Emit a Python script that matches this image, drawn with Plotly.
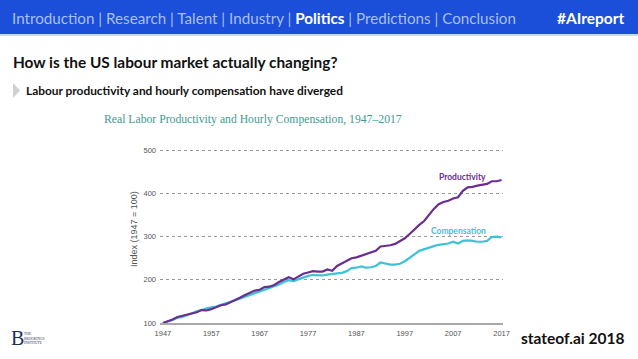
import plotly.graph_objects as go

years = list(range(1947, 2018))
productivity = [100, 104, 108, 114, 117, 120, 123, 125, 130, 129,
                132, 136, 141, 143, 148, 154, 159, 165, 170, 175,
                177, 183, 184, 188, 195, 201, 206, 201, 208, 214,
                217, 220, 219, 219, 224, 221, 232, 238, 244, 250,
                252, 256, 259, 263, 267, 277, 278, 280, 283, 290,
                296, 306, 317, 327, 336, 350, 364, 375, 380, 383,
                388, 391, 406, 414, 415, 418, 420, 422, 428, 428, 431]
compensation = [100, 103, 107, 112, 114, 118, 123, 127, 130, 134,
                136, 138, 142, 145, 149, 153, 157, 162, 166, 170,
                173, 178, 182, 185, 189, 195, 199, 197, 201, 206,
                209, 211, 211, 210, 212, 214, 215, 216, 220, 227,
                228, 231, 228, 229, 232, 240, 237, 235, 235, 237,
                243, 252, 259, 267, 271, 274, 278, 281, 282, 284,
                288, 284, 290, 291, 290, 288, 288, 290, 299, 300, 298]
x_ticks = [1947, 1957, 1967, 1977, 1987, 1997, 2007, 2017]
y_ticks = [100, 200, 300, 400, 500]

W, H = 638, 359
L, R, T, B = 160, 135, 148, 36
PW, PH = W - L - R, H - T - B


def px(x):
    return (x - L) / PW


def py(y):
    return (H - B - y) / PH


PURPLE = "#6b2d8f"
CYAN = "#3cc3d6"

fig = go.Figure()
fig.add_trace(go.Scatter(x=years, y=compensation, mode="lines",
                         line=dict(color=CYAN, width=2.2), name="Compensation",
                         hoverinfo="skip"))
fig.add_trace(go.Scatter(x=years, y=productivity, mode="lines",
                         line=dict(color=PURPLE, width=2.2), name="Productivity",
                         hoverinfo="skip"))

shapes = [
    # banner
    dict(type="rect", xref="paper", yref="paper", x0=px(0), x1=px(W),
         y0=py(34), y1=py(0), fillcolor="#1c4fd9", line=dict(width=0), layer="below"),
    dict(type="rect", xref="paper", yref="paper", x0=px(0), x1=px(W),
         y0=py(36), y1=py(34), fillcolor="#c9d8f7", line=dict(width=0), layer="below"),
    # bullet triangle
    dict(type="path", xref="paper", yref="paper",
         path=f"M {px(13)} {py(83)} L {px(20)} {py(90.5)} L {px(13)} {py(98)} Z",
         fillcolor="#d0d0d0", line=dict(width=0)),
]

annotations = [
    dict(xref="paper", yref="paper", x=px(10), y=py(18), xanchor="left", yanchor="middle",
         showarrow=False,
         text=("<span style='color:#a9bff2'>Introduction | Research | Talent | Industry | </span>"
               "<b style='color:#ffffff'>Politics</b>"
               "<span style='color:#a9bff2'> | Predictions | Conclusion</span>"),
         font=dict(family="Lato", size=15.2, color="#a9bff2")),
    dict(xref="paper", yref="paper", x=px(627), y=py(18), xanchor="right", yanchor="middle",
         showarrow=False, text="<b>#AIreport</b>",
         font=dict(family="Lato", size=15.5, color="#ffffff")),
    dict(xref="paper", yref="paper", x=px(11), y=py(62), xanchor="left", yanchor="middle",
         showarrow=False, text="<b>How is the US labour market actually changing?</b>",
         font=dict(family="Lato", size=15.4, color="#111111")),
    dict(xref="paper", yref="paper", x=px(24), y=py(90.5), xanchor="left", yanchor="middle",
         showarrow=False, text="<b>Labour productivity and hourly compensation have diverged</b>",
         font=dict(family="Lato", size=11.9, color="#111111")),
    dict(xref="paper", yref="paper", x=px(102), y=py(119), xanchor="left", yanchor="middle",
         showarrow=False, text="Real Labor Productivity and Hourly Compensation, 1947\u20132017",
         font=dict(family="Liberation Serif", size=11.7, color="#3f9a93")),
    dict(xref="paper", yref="paper", x=px(134), y=py(229), xanchor="center", yanchor="middle",
         showarrow=False, text="Index (1947 = 100)", textangle=-90,
         font=dict(family="Liberation Sans Narrow, Liberation Sans", size=9, color="#555555")),
    dict(x=2009.0, y=437, xref="x", yref="y", showarrow=False, text="<b>Productivity</b>",
         font=dict(family="Lato", size=8.5, color=PURPLE)),
    dict(x=2008.2, y=312, xref="x", yref="y", showarrow=False, text="<b>Compensation</b>",
         font=dict(family="Lato", size=8.5, color=CYAN)),
    dict(xref="paper", yref="paper", x=px(626), y=py(338), xanchor="right", yanchor="middle",
         showarrow=False, text="<b>stateof.ai 2018</b>",
         font=dict(family="Lato", size=15.5, color="#111111")),
    dict(xref="paper", yref="paper", x=px(17), y=py(338), xanchor="center", yanchor="middle",
         showarrow=False, text="B",
         font=dict(family="Liberation Serif", size=20, color="#1f2f5c")),
    dict(xref="paper", yref="paper", x=px(22), y=py(338), xanchor="left", yanchor="middle",
         showarrow=False, text="THE<br>BROOKINGS<br>INSTITUTE",
         font=dict(family="Liberation Serif", size=3.5, color="#1f2f5c"), align="left"),
]

fig.update_layout(
    width=W, height=H, autosize=False,
    margin=dict(l=L, r=R, t=T, b=B, pad=0),
    paper_bgcolor="white", plot_bgcolor="white",
    showlegend=False,
    shapes=shapes, annotations=annotations,
    xaxis=dict(range=[1946.4, 2017.3], tickvals=x_ticks, ticktext=[str(v) for v in x_ticks],
               showgrid=False, zeroline=False, showline=True, linecolor="#a8a8a8",
               linewidth=1.5, ticks="", ticklabelstandoff=2,
               tickfont=dict(family="Liberation Sans Narrow, Liberation Sans", size=7.5,
                             color="#555555")),
    yaxis=dict(range=[100, 505], tickvals=y_ticks, ticktext=[str(v) for v in y_ticks],
               showgrid=True, gridcolor="#999999", griddash="dot", gridwidth=1,
               zeroline=False, showline=False, ticks="", ticklabelstandoff=3,
               tickfont=dict(family="Liberation Sans Narrow, Liberation Sans", size=7.5,
                             color="#555555")),
)

fig.write_html("out.html", config={"displayModeBar": False},
               post_script="document.body.style.margin='0';document.body.style.overflow='hidden';")
